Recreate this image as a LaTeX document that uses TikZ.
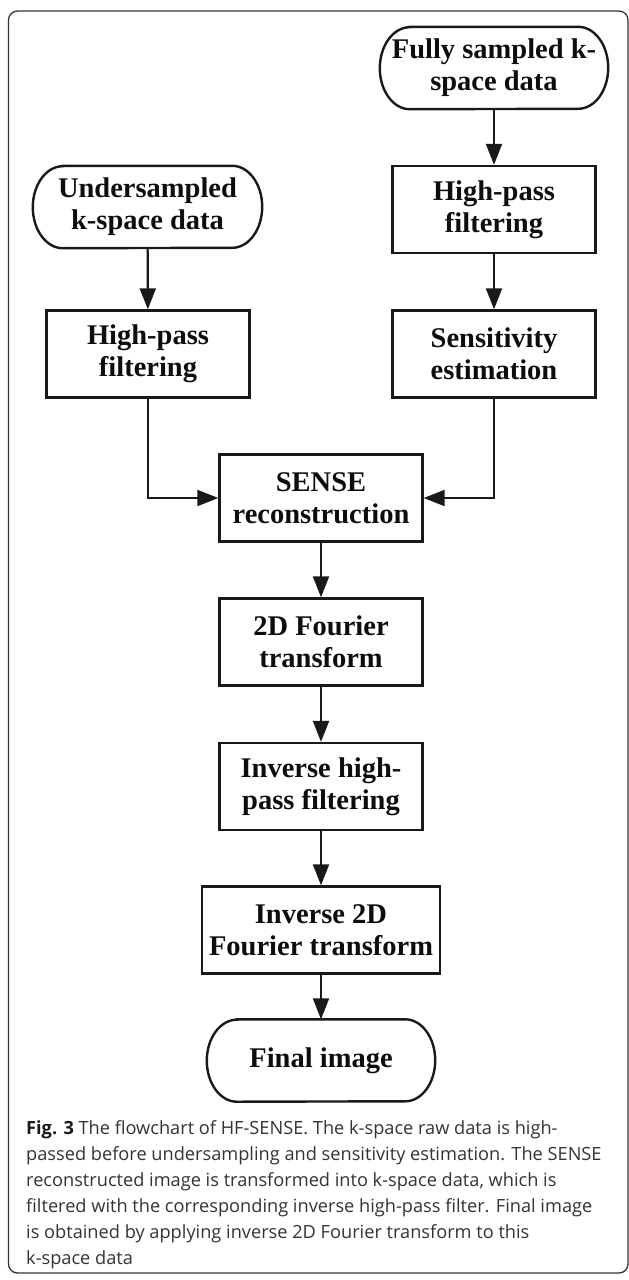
\documentclass[tikz,border=0pt]{standalone}
\usepackage{fontspec}
\setmainfont{Liberation Serif}
\newfontfamily\capfont{Open Sans}
\usetikzlibrary{arrows.meta,calc}
\newcommand\stadium[1]{%
  \draw[line width=2.4pt, draw=black!90]
    ($(#1.north west)+(30pt,0)$) -- ($(#1.north east)+(-30pt,0)$)
    arc[start angle=90,end angle=-90,x radius=30pt,y radius=41pt]
    -- ($(#1.south west)+(30pt,0)$)
    arc[start angle=270,end angle=90,x radius=30pt,y radius=41pt] -- cycle;}
\begin{document}
\begin{tikzpicture}[x=1pt,y=1pt,
  txt/.style={align=center, inner sep=0pt, text=black!95,
    font=\fontsize{28.5}{32}\selectfont\bfseries},
  box/.style={txt, draw=black!90, line width=2.4pt,
    minimum width=203pt, minimum height=87pt},
  term/.style={txt, minimum width=228pt, minimum height=82pt},
  arr/.style={draw=black!90, line width=2.2pt, -{Triangle[length=21pt,width=16pt]}},
  capline/.style={anchor=base west, inner sep=0pt, text=black!80,
    font=\capfont\fontsize{18.2}{22}\selectfont},
]
\useasboundingbox (0,0) rectangle (629,-1280);
\draw[line width=1.3pt, draw=black!80, rounded corners=9pt] (8.5,-11) rectangle (628,-1273);

\node[term] (F) at (494,-68) {Fully sampled k-\\space data};
\stadium{F}
\node[term, minimum width=229pt] (U) at (147.5,-207) {Undersampled\\k-space data};
\stadium{U}
\node[box] (HPR) at (494,-209.5) {High-pass\\filtering};
\node[box] (HPL) at (148,-354) {High-pass\\filtering};
\node[box] (SE) at (494,-354) {Sensitivity\\estimation};
\node[box] (SR) at (321,-498) {SENSE\\reconstruction};
\node[box] (FT) at (321,-642) {2D Fourier\\transform};
\node[box] (IHP) at (321,-786.5) {Inverse high-\\pass filtering};
\node[box, minimum width=238pt] (I2D) at (321,-930) {Inverse 2D\\Fourier transform};
\node[term] (FI) at (321,-1060.5) {Final image};
\stadium{FI}

\draw[arr] (F) -- (HPR);
\draw[arr] (HPR) -- (SE);
\draw[arr] (U) -- (HPL);
\draw[arr] (HPL.south) |- (SR.west);
\draw[arr] (SE.south) |- (SR.east);
\draw[arr] (SR) -- (FT);
\draw[arr] (FT) -- (IHP);
\draw[arr] (IHP) -- (I2D);
\draw[arr] (I2D) -- (FI);

\node[capline] (c1) at (26,-1134) {{\bfseries\color{black!90}Fig. 3} The flowchart of HF-SENSE. The k-space raw data is high-};
\node[capline] (c2) at (26,-1160) {passed before undersampling and sensitivity estimation. The SENSE};
\node[capline] (c3) at (26,-1186) {reconstructed image is transformed into k-space data, which is};
\node[capline] (c4) at (26,-1212) {filtered with the corresponding inverse high-pass filter. Final image};
\node[capline] (c5) at (26,-1238) {is obtained by applying inverse 2D Fourier transform to this};
\node[capline] (c6) at (26,-1264) {k-space data};
\end{tikzpicture}
\end{document}
